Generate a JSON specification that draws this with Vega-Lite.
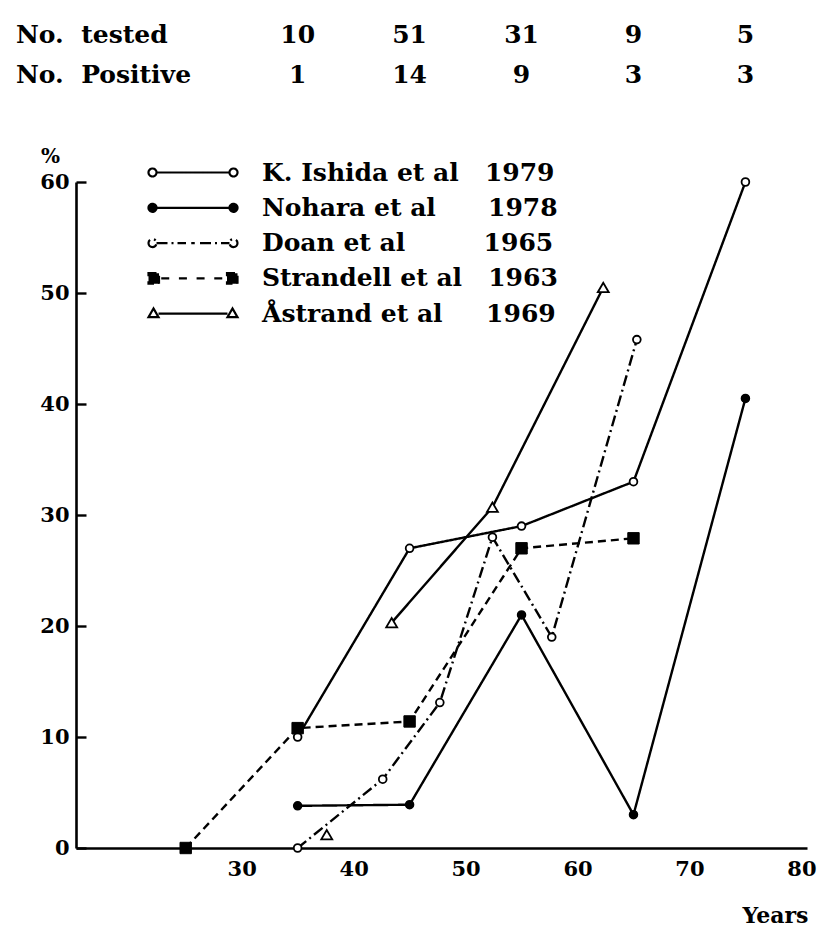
{
  "$schema": "https://vega.github.io/schema/vega-lite/v6.json",
  "width": 731,
  "height": 666,
  "autosize": "none",
  "padding": {"left": 76, "top": 182, "right": 17, "bottom": 89},
  "background": "white",
  "config": {
    "view": {"stroke": null},
    "font": "DejaVu Serif",
    "axis": {
      "domainColor": "black",
      "domainWidth": 2.6,
      "labelFont": "DejaVu Serif",
      "labelFontWeight": "bold",
      "labelFontSize": 21,
      "labelColor": "black",
      "tickColor": "black",
      "tickWidth": 2.4,
      "grid": false,
      "titleFont": "DejaVu Serif",
      "titleFontWeight": "bold",
      "titleColor": "black"
    }
  },
  "datasets": {
    "series": [
      {"study": "K. Ishida et al\u00a0\u00a0\u00a01979", "age": 35, "pct": 10, "joined": true},
      {"study": "K. Ishida et al\u00a0\u00a0\u00a01979", "age": 45, "pct": 27, "joined": true},
      {"study": "K. Ishida et al\u00a0\u00a0\u00a01979", "age": 55, "pct": 29, "joined": true},
      {"study": "K. Ishida et al\u00a0\u00a0\u00a01979", "age": 65, "pct": 33, "joined": true},
      {"study": "K. Ishida et al\u00a0\u00a0\u00a01979", "age": 75, "pct": 60, "joined": true},
      {"study": "Nohara et al\u00a0\u00a0\u00a0\u00a0\u00a0\u00a01978", "age": 35, "pct": 3.8, "joined": true},
      {"study": "Nohara et al\u00a0\u00a0\u00a0\u00a0\u00a0\u00a01978", "age": 45, "pct": 3.9, "joined": true},
      {"study": "Nohara et al\u00a0\u00a0\u00a0\u00a0\u00a0\u00a01978", "age": 55, "pct": 21, "joined": true},
      {"study": "Nohara et al\u00a0\u00a0\u00a0\u00a0\u00a0\u00a01978", "age": 65, "pct": 3, "joined": true},
      {"study": "Nohara et al\u00a0\u00a0\u00a0\u00a0\u00a0\u00a01978", "age": 75, "pct": 40.5, "joined": true},
      {"study": "Doan et al\u00a0\u00a0\u00a0\u00a0\u00a0\u00a0\u00a0\u00a0\u00a01965", "age": 35, "pct": 0, "joined": true},
      {"study": "Doan et al\u00a0\u00a0\u00a0\u00a0\u00a0\u00a0\u00a0\u00a0\u00a01965", "age": 42.6, "pct": 6.2, "joined": true},
      {"study": "Doan et al\u00a0\u00a0\u00a0\u00a0\u00a0\u00a0\u00a0\u00a0\u00a01965", "age": 47.7, "pct": 13.1, "joined": true},
      {"study": "Doan et al\u00a0\u00a0\u00a0\u00a0\u00a0\u00a0\u00a0\u00a0\u00a01965", "age": 52.4, "pct": 28, "joined": true},
      {"study": "Doan et al\u00a0\u00a0\u00a0\u00a0\u00a0\u00a0\u00a0\u00a0\u00a01965", "age": 57.7, "pct": 19, "joined": true},
      {"study": "Doan et al\u00a0\u00a0\u00a0\u00a0\u00a0\u00a0\u00a0\u00a0\u00a01965", "age": 65.3, "pct": 45.8, "joined": true},
      {"study": "Strandell et al\u00a0\u00a0\u00a01963", "age": 25, "pct": 0, "joined": true},
      {"study": "Strandell et al\u00a0\u00a0\u00a01963", "age": 35, "pct": 10.8, "joined": true},
      {"study": "Strandell et al\u00a0\u00a0\u00a01963", "age": 45, "pct": 11.4, "joined": true},
      {"study": "Strandell et al\u00a0\u00a0\u00a01963", "age": 55, "pct": 27, "joined": true},
      {"study": "Strandell et al\u00a0\u00a0\u00a01963", "age": 65, "pct": 27.9, "joined": true},
      {"study": "Åstrand et al\u00a0\u00a0\u00a0\u00a0\u00a01969", "age": 37.6, "pct": 1.2, "joined": false},
      {"study": "Åstrand et al\u00a0\u00a0\u00a0\u00a0\u00a01969", "age": 43.4, "pct": 20.3, "joined": true},
      {"study": "Åstrand et al\u00a0\u00a0\u00a0\u00a0\u00a01969", "age": 52.4, "pct": 30.7, "joined": true},
      {"study": "Åstrand et al\u00a0\u00a0\u00a0\u00a0\u00a01969", "age": 62.3, "pct": 50.5, "joined": true}
    ],
    "header": [
      {"row": "tested", "age": 35, "n": "10"},
      {"row": "tested", "age": 45, "n": "51"},
      {"row": "tested", "age": 55, "n": "31"},
      {"row": "tested", "age": 65, "n": "9"},
      {"row": "tested", "age": 75, "n": "5"},
      {"row": "positive", "age": 35, "n": "1"},
      {"row": "positive", "age": 45, "n": "14"},
      {"row": "positive", "age": 55, "n": "9"},
      {"row": "positive", "age": 65, "n": "3"},
      {"row": "positive", "age": 75, "n": "3"}
    ],
    "rowtitles": [
      {"row": "tested", "label": "No.\u00a0\u00a0tested"},
      {"row": "positive", "label": "No.\u00a0\u00a0Positive"}
    ]
  },
  "layer": [
    {
      "data": {"name": "series"},
      "transform": [{"filter": "datum.joined"}],
      "mark": {"type": "line", "color": "black", "strokeWidth": 2.4, "clip": false},
      "encoding": {
        "x": {
          "field": "age", "type": "quantitative",
          "scale": {"domain": [15.2, 80.5], "nice": false, "zero": false},
          "axis": {
            "values": [30, 40, 50, 60, 70, 80],
            "ticks": false,
            "labelPadding": 10,
            "title": "Years",
            "titleFontSize": 22,
            "titleX": 732,
            "titleY": 67,
            "titleAlign": "right",
            "titleBaseline": "middle"
          }
        },
        "y": {
          "field": "pct", "type": "quantitative",
          "scale": {"domain": [0, 60], "nice": false, "zero": false},
          "axis": {
            "values": [0, 10, 20, 30, 40, 50, 60],
            "tickSize": -10,
            "labelPadding": 17,
            "title": "%",
            "titleAngle": 0,
            "titleFontSize": 20,
            "titleX": -26,
            "titleY": -26,
            "titleAlign": "center",
            "titleBaseline": "middle"
          }
        },
        "strokeDash": {
          "field": "study", "type": "nominal",
          "scale": {
            "domain": ["K. Ishida et al\u00a0\u00a0\u00a01979", "Nohara et al\u00a0\u00a0\u00a0\u00a0\u00a0\u00a01978", "Doan et al\u00a0\u00a0\u00a0\u00a0\u00a0\u00a0\u00a0\u00a0\u00a01965", "Strandell et al\u00a0\u00a0\u00a01963", "Åstrand et al\u00a0\u00a0\u00a0\u00a0\u00a01969"],
            "range": [[1, 0], [1, 0], [11, 4, 2, 4], [8, 5], [1, 0]]
          },
          "legend": {
            "orient": "none",
            "legendX": 98,
            "legendY": -28.5,
            "title": null,
            "padding": 0,
            "rowPadding": 3.3,
            "labelFont": "DejaVu Serif",
            "labelFontWeight": "bold",
            "labelFontSize": 25,
            "labelColor": "black",
            "labelLimit": 500,
            "labelOffset": 50,
            "symbolSize": 1225,
            "symbolStrokeWidth": 2.2,
            "encoding": {
              "symbols": {
                "shape": {"value": {"expr": "indexof(datum.value,'Strandell')>=0 ? 'M-2.543,-0.3L-1.943,-0.3L-1.943,0.3L-2.543,0.3Z M1.943,-0.3L2.543,-0.3L2.543,0.3L1.943,0.3Z M-1.815,0L-1.215,0 M-0.805,0L-0.205,0 M0.205,0L0.805,0 M1.215,0L1.815,0' : indexof(datum.value,'Doan')>=0 ? 'M-2.543,0A0.229,0.229,0,1,0,-2.085,0A0.229,0.229,0,1,0,-2.543,0Z M-2.085,0L-0.4,0 M-0.1,0L0.1,0 M0.4,0L2.085,0 M2.543,0A0.229,0.229,0,1,1,2.085,0A0.229,0.229,0,1,1,2.543,0Z' : indexof(datum.value,'strand')>=0 ? 'M-1.97,0L1.97,0 M-2.543,0.2L-1.97,0.2L-2.257,-0.3Z M1.97,0.2L2.543,0.2L2.257,-0.3Z' : 'M-2.085,0L2.085,0 M-2.085,0A0.229,0.229,0,1,1,-2.543,0A0.229,0.229,0,1,1,-2.085,0Z M2.543,0A0.229,0.229,0,1,1,2.085,0A0.229,0.229,0,1,1,2.543,0Z'"}},
                "fill": {"value": {"expr": "(indexof(datum.value,'Nohara')>=0 || indexof(datum.value,'Strandell')>=0) ? 'black' : 'white'"}},
                "stroke": {"value": "black"},
                "strokeWidth": {"value": 2.2},
                "strokeDash": {"value": [1, 0]},
                "size": {"value": 1225},
                "opacity": {"value": 1}
              }
            }
          }
        }
      }
    },
    {
      "data": {"name": "series"},
      "transform": [{"filter": "indexof(datum.study,'Ishida')>=0 || indexof(datum.study,'Doan')>=0"}],
      "mark": {"type": "point", "shape": "circle", "size": 60, "filled": true, "fill": "white", "stroke": "black", "strokeWidth": 1.8, "opacity": 1, "clip": false},
      "encoding": {
        "x": {"field": "age", "type": "quantitative", "scale": {"domain": [15.2, 80.5], "nice": false, "zero": false}},
        "y": {"field": "pct", "type": "quantitative", "scale": {"domain": [0, 60], "nice": false, "zero": false}}
      }
    },
    {
      "data": {"name": "series"},
      "transform": [{"filter": "indexof(datum.study,'Nohara')>=0"}],
      "mark": {"type": "point", "shape": "circle", "size": 64, "filled": true, "fill": "black", "stroke": "black", "strokeWidth": 1.5, "opacity": 1, "clip": false},
      "encoding": {
        "x": {"field": "age", "type": "quantitative", "scale": {"domain": [15.2, 80.5], "nice": false, "zero": false}},
        "y": {"field": "pct", "type": "quantitative", "scale": {"domain": [0, 60], "nice": false, "zero": false}}
      }
    },
    {
      "data": {"name": "series"},
      "transform": [{"filter": "indexof(datum.study,'Strandell')>=0"}],
      "mark": {"type": "point", "shape": "square", "size": 130, "filled": true, "fill": "black", "stroke": "black", "strokeWidth": 1, "opacity": 1, "clip": false},
      "encoding": {
        "x": {"field": "age", "type": "quantitative", "scale": {"domain": [15.2, 80.5], "nice": false, "zero": false}},
        "y": {"field": "pct", "type": "quantitative", "scale": {"domain": [0, 60], "nice": false, "zero": false}}
      }
    },
    {
      "data": {"name": "series"},
      "transform": [{"filter": "indexof(datum.study,'strand et')>=0"}],
      "mark": {"type": "point", "shape": "triangle-up", "size": 120, "filled": true, "fill": "white", "stroke": "black", "strokeWidth": 1.8, "opacity": 1, "clip": false},
      "encoding": {
        "x": {"field": "age", "type": "quantitative", "scale": {"domain": [15.2, 80.5], "nice": false, "zero": false}},
        "y": {"field": "pct", "type": "quantitative", "scale": {"domain": [0, 60], "nice": false, "zero": false}}
      }
    },
    {
      "data": {"name": "header"},
      "transform": [{"filter": "datum.row == 'tested'"}],
      "mark": {"type": "text", "font": "DejaVu Serif", "fontWeight": "bold", "fontSize": 25, "color": "black", "align": "center", "baseline": "middle", "clip": false},
      "encoding": {
        "x": {"field": "age", "type": "quantitative", "scale": {"domain": [15.2, 80.5], "nice": false, "zero": false}},
        "y": {"datum": 73.2, "type": "quantitative", "scale": {"domain": [0, 60], "nice": false, "zero": false}},
        "text": {"field": "n"}
      }
    },
    {
      "data": {"name": "header"},
      "transform": [{"filter": "datum.row == 'positive'"}],
      "mark": {"type": "text", "font": "DejaVu Serif", "fontWeight": "bold", "fontSize": 25, "color": "black", "align": "center", "baseline": "middle", "clip": false},
      "encoding": {
        "x": {"field": "age", "type": "quantitative", "scale": {"domain": [15.2, 80.5], "nice": false, "zero": false}},
        "y": {"datum": 69.6, "type": "quantitative", "scale": {"domain": [0, 60], "nice": false, "zero": false}},
        "text": {"field": "n"}
      }
    },
    {
      "data": {"name": "rowtitles"},
      "transform": [{"filter": "datum.row == 'tested'"}],
      "mark": {"type": "text", "font": "DejaVu Serif", "fontWeight": "bold", "fontSize": 25, "color": "black", "align": "left", "baseline": "middle", "clip": false},
      "encoding": {
        "x": {"datum": 9.84, "type": "quantitative", "scale": {"domain": [15.2, 80.5], "nice": false, "zero": false}},
        "y": {"datum": 73.2, "type": "quantitative", "scale": {"domain": [0, 60], "nice": false, "zero": false}},
        "text": {"field": "label"}
      }
    },
    {
      "data": {"name": "rowtitles"},
      "transform": [{"filter": "datum.row == 'positive'"}],
      "mark": {"type": "text", "font": "DejaVu Serif", "fontWeight": "bold", "fontSize": 25, "color": "black", "align": "left", "baseline": "middle", "clip": false},
      "encoding": {
        "x": {"datum": 9.84, "type": "quantitative", "scale": {"domain": [15.2, 80.5], "nice": false, "zero": false}},
        "y": {"datum": 69.6, "type": "quantitative", "scale": {"domain": [0, 60], "nice": false, "zero": false}},
        "text": {"field": "label"}
      }
    }
  ]
}
